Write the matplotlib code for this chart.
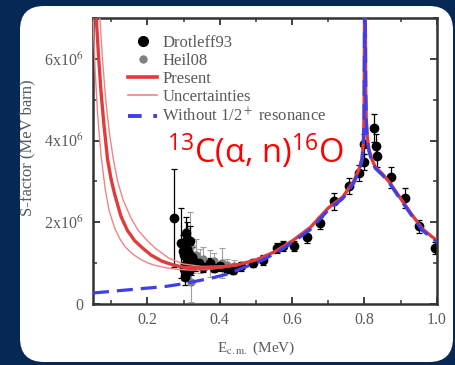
import matplotlib
matplotlib.use("Agg")
import matplotlib.pyplot as plt
from matplotlib.lines import Line2D
from matplotlib.patches import FancyBboxPatch
from matplotlib.transforms import IdentityTransform
from matplotlib.ticker import FixedLocator, FixedFormatter, MultipleLocator

# fonts: serif for the chart, sans for the red reaction label
plt.rcParams["font.family"] = ["Liberation Serif", "DejaVu Serif"]
plt.rcParams["mathtext.fontset"] = "stix"
plt.rcParams["mathtext.rm"] = "Open Sans"
plt.rcParams["mathtext.it"] = "Open Sans:italic"
plt.rcParams["mathtext.bf"] = "Open Sans:bold"

# S-factor in units of 1e6 MeV barn, energy in MeV
# Present fit
pres_E = [0.059, 0.065, 0.072, 0.080, 0.090, 0.100, 0.110, 0.127, 0.145, 0.165, 0.187,
          0.21, 0.24, 0.27, 0.30, 0.35, 0.40, 0.45, 0.50, 0.55, 0.60, 0.65, 0.70, 0.74,
          0.77, 0.785, 0.793, 0.797, 0.799, 0.8005, 0.802, 0.8035, 0.805, 0.808, 0.812,
          0.82, 0.83, 0.85, 0.87, 0.90, 0.93, 0.96, 1.0]
pres_S = [7.0, 6.1, 5.2, 4.4, 3.55, 3.05, 2.68, 2.15, 1.8, 1.55, 1.37,
          1.2, 1.05, 0.96, 0.90, 0.88, 0.90, 0.96, 1.08, 1.27, 1.54, 1.87, 2.35, 2.62,
          3.0, 3.3, 3.55, 3.95, 4.6, 7.5, 7.5, 5.2, 4.5, 4.05, 3.8,
          3.55, 3.35, 3.18, 2.97, 2.58, 2.2, 1.84, 1.55]

# uncertainty band (lower / upper)
lo_E = [0.05, 0.056, 0.063, 0.072, 0.083, 0.094, 0.11, 0.125, 0.141, 0.16, 0.18,
        0.2, 0.22, 0.25, 0.28, 0.32, 0.36, 0.40, 0.45]
lo_S = [7.0, 5.7, 4.6, 3.65, 2.85, 2.3, 1.85, 1.58, 1.38, 1.22, 1.1,
        1.01, 0.95, 0.89, 0.85, 0.83, 0.84, 0.88, 0.95]
hi_E = [0.069, 0.076, 0.085, 0.095, 0.106, 0.118, 0.133, 0.155, 0.175, 0.2, 0.224,
        0.26, 0.30, 0.35, 0.40, 0.45]
hi_S = [7.0, 6.0, 5.0, 4.2, 3.55, 3.0, 2.55, 2.1, 1.8, 1.55, 1.35,
        1.12, 0.98, 0.92, 0.93, 0.97]

# without the 1/2+ resonance
nr_E = [0.05, 0.10, 0.15, 0.20, 0.25, 0.28, 0.33, 0.38, 0.42, 0.446, 0.48, 0.52,
        0.57, 0.60, 0.65, 0.70, 0.74, 0.77, 0.785, 0.793, 0.797, 0.799, 0.8005, 0.802,
        0.8035, 0.805, 0.808, 0.812, 0.82, 0.83, 0.85, 0.87, 0.90, 0.93, 0.96, 1.0]
nr_S = [0.27, 0.31, 0.35, 0.39, 0.43, 0.47, 0.55, 0.64, 0.73, 0.82, 0.94, 1.08,
        1.33, 1.5, 1.82, 2.3, 2.58, 2.95, 3.25, 3.5, 3.9, 4.55, 7.5, 7.5,
        5.2, 4.5, 4.0, 3.75, 3.5, 3.32, 3.15, 2.94, 2.55, 2.17, 1.8, 1.52]

# Drotleff93 data
drot_E = [0.275, 0.294, 0.298, 0.300, 0.302, 0.303, 0.305, 0.307, 0.309, 0.310, 0.312,
          0.313, 0.315, 0.318, 0.320, 0.323, 0.326, 0.333, 0.344, 0.355, 0.372, 0.385,
          0.400, 0.420, 0.437, 0.460, 0.492, 0.520, 0.557, 0.576, 0.604, 0.641, 0.678,
          0.715, 0.758, 0.786, 0.798, 0.800, 0.826, 0.831, 0.835, 0.872, 0.911, 0.951,
          0.995]
drot_S = [2.10, 1.49, 1.30, 1.20, 0.85, 0.67, 0.95, 1.74, 1.60, 1.35, 1.05,
          1.25, 0.80, 1.55, 0.90, 1.15, 1.08, 0.95, 1.00, 0.90, 1.00, 0.88,
          0.92, 0.85, 0.83, 0.92, 1.00, 1.08, 1.37, 1.41, 1.41, 1.65, 1.98,
          2.51, 2.88, 3.21, 3.47, 3.92, 4.31, 3.86, 3.61, 3.10, 2.59, 1.90,
          1.37]
drot_err = [1.2, 0.85, 0.4, 0.5, 0.25, 0.2, 0.3, 0.4, 0.4, 0.35, 0.25,
            0.3, 0.2, 0.35, 0.2, 0.25, 0.2, 0.15, 0.15, 0.12, 0.12, 0.1,
            0.1, 0.1, 0.1, 0.1, 0.1, 0.12, 0.12, 0.12, 0.12, 0.15, 0.15,
            0.2, 0.2, 0.2, 0.2, 0.25, 0.35, 0.3, 0.25, 0.25, 0.25, 0.15,
            0.15]

# Heil08 data
heil_E = [0.310, 0.317, 0.320, 0.325, 0.335, 0.345, 0.355, 0.372, 0.385, 0.405, 0.42, 0.44]
heil_S = [1.25, 1.40, 0.55, 1.10, 1.20, 1.05, 1.10, 1.00, 1.05, 1.00, 0.95, 0.92]
heil_err = [0.6, 0.85, 0.5, 0.35, 0.4, 0.3, 0.3, 0.33, 0.2, 0.37, 0.15, 0.15]

red = "#e23b3b"
red_thin = "#ee8585"
blue = "#3f3fe8"
grey_txt = "#5a5a5a"

fig = plt.figure(figsize=(4.56, 3.65), dpi=100, facecolor="#072855")

# white rounded panel (pixel coordinates)
panel = FancyBboxPatch((20, 3), 433, 356, boxstyle="round,pad=0,rounding_size=24",
                       transform=IdentityTransform(), facecolor="white", edgecolor="none",
                       zorder=-5)
fig.patches.append(panel)

ax = fig.add_axes([0.204, 0.167, 0.754, 0.784])
ax.set_facecolor("white")

ax.errorbar(heil_E, heil_S, yerr=heil_err, fmt="o", color="#808080", ecolor="#a0a0a0",
            ms=5, elinewidth=0.8, capsize=2, capthick=0.8, zorder=2)
ax.errorbar(drot_E, drot_S, yerr=drot_err, fmt="o", color="black", ms=6,
            elinewidth=0.9, capsize=2, capthick=0.9, zorder=2)

ax.plot(lo_E, lo_S, color=red_thin, lw=1.0, zorder=3)
ax.plot(hi_E, hi_S, color=red_thin, lw=1.0, zorder=3)
ax.plot(pres_E, pres_S, color=red, lw=2.4, zorder=4)
ax.plot(nr_E, nr_S, color=blue, lw=2.3, ls=(0, (5, 2.5)), zorder=5)

ax.set_xlim(0.05, 1.0)
ax.set_ylim(0, 7.0)

ax.xaxis.set_major_locator(FixedLocator([0.2, 0.4, 0.6, 0.8, 1.0]))
ax.xaxis.set_major_formatter(FixedFormatter(["0.2", "0.4", "0.6", "0.8", "1.0"]))
ax.xaxis.set_minor_locator(MultipleLocator(0.1))
ax.yaxis.set_major_locator(FixedLocator([0, 2, 4, 6]))
ax.yaxis.set_major_formatter(FixedFormatter(["0", r"2x10$^6$", r"4x10$^6$", r"6x10$^6$"]))
ax.yaxis.set_minor_locator(MultipleLocator(1))

ax.tick_params(which="both", direction="in", top=True, right=True, color="#333333",
               labelcolor=grey_txt, labelsize=11.5)
ax.tick_params(which="major", length=5, width=1.3)
ax.tick_params(which="minor", length=3, width=1.1)
ax.tick_params(axis="x", pad=6)
ax.tick_params(axis="y", pad=7)
for s in ax.spines.values():
    s.set_color("#333333")
    s.set_linewidth(1.8)

ax.set_xlabel(r"E$_{\rm c.m.}$ (MeV)", color=grey_txt, fontsize=11)
ax.set_ylabel("S-factor (MeV barn)", color=grey_txt, fontsize=12)
ax.xaxis.set_label_coords(0.474, -0.125)
ax.yaxis.set_label_coords(-0.169, 0.545)

handles = [
    Line2D([], [], marker="o", color="black", ls="none", ms=7),
    Line2D([], [], marker="o", color="#808080", ls="none", ms=5),
    Line2D([], [], color=red, lw=2.6),
    Line2D([], [], color=red_thin, lw=1.2),
    Line2D([], [], color=blue, lw=2.8, ls=(0, (3.5, 3))),
]
labels = ["Drotleff93", "Heil08", "Present", "Uncertainties", r"Without 1/2$^+$ resonance"]
leg = ax.legend(handles, labels, loc="upper left", bbox_to_anchor=(0.102, 0.94),
                frameon=False, borderpad=0, borderaxespad=0, handlelength=1.75,
                handletextpad=0.3, labelspacing=0.12, fontsize=12)
for t in leg.get_texts():
    t.set_color(grey_txt)

ax.text(0.215, 0.493, r"$^{13}$C(α, n)$^{16}$O", transform=ax.transAxes,
        color="#ff0000", fontsize=23.5, family="Open Sans", math_fontfamily="custom",
        va="baseline", ha="left", zorder=6)

fig.savefig("out.png", dpi=100, facecolor=fig.get_facecolor())
